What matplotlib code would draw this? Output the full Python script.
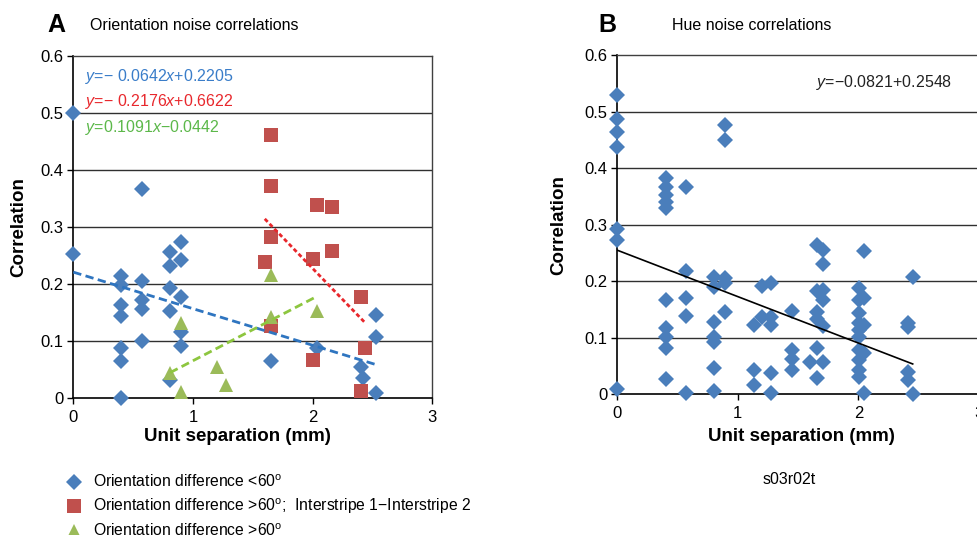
import matplotlib
matplotlib.use("Agg")
import matplotlib.pyplot as plt
from matplotlib.lines import Line2D
import numpy as np

plt.rcParams['font.family'] = ['Liberation Sans', 'DejaVu Sans']
plt.rcParams['mathtext.fontset'] = 'custom'
plt.rcParams['mathtext.rm'] = 'Liberation Sans'
plt.rcParams['mathtext.it'] = 'Liberation Sans:italic'

# Panel A: orientation noise correlations
ori_lt60_x = [0, 0, 0.40, 0.40, 0.40, 0.40, 0.40, 0.40, 0.40, 0.57, 0.57, 0.57, 0.57, 0.57,
              0.81, 0.81, 0.81, 0.81, 0.81, 0.90, 0.90, 0.90, 0.90, 0.90,
              1.65, 2.04, 2.40, 2.42, 2.53, 2.53, 2.53]
ori_lt60_y = [0.500, 0.252, 0.214, 0.198, 0.163, 0.143, 0.088, 0.064, 0.000, 0.366, 0.205, 0.171, 0.155, 0.100,
              0.255, 0.231, 0.192, 0.153, 0.031, 0.274, 0.241, 0.176, 0.116, 0.091,
              0.065, 0.088, 0.054, 0.034, 0.145, 0.106, 0.008]

ori_inter_x = [1.65, 1.65, 1.65, 1.60, 1.65, 2.04, 2.16, 2.00, 2.16, 2.00, 2.40, 2.44, 2.40]
ori_inter_y = [0.462, 0.372, 0.283, 0.239, 0.126, 0.338, 0.335, 0.243, 0.258, 0.066, 0.176, 0.088, 0.011]

ori_gt60_x = [0.90, 0.81, 0.90, 1.20, 1.28, 1.65, 1.65, 2.04]
ori_gt60_y = [0.131, 0.043, 0.010, 0.054, 0.022, 0.215, 0.142, 0.153]

# trendlines: slope, intercept, x range
fit_lt60 = [-0.0642, 0.2205, 0.0, 2.53]
fit_inter = [-0.2176, 0.6622, 1.60, 2.44]
fit_gt60 = [0.1091, -0.0442, 0.81, 2.04]

# Panel B: hue noise correlations
hue_x = [0, 0, 0, 0, 0, 0, 0,
         0.40, 0.40, 0.40, 0.40, 0.40, 0.40, 0.40, 0.40, 0.40, 0.40,
         0.57, 0.57, 0.57, 0.57, 0.57,
         0.80, 0.80, 0.80, 0.80, 0.80, 0.80, 0.80,
         0.895, 0.895, 0.895, 0.895, 0.895,
         1.13, 1.13, 1.13,
         1.20, 1.20,
         1.275, 1.275, 1.275, 1.275, 1.275,
         1.45, 1.45, 1.45, 1.45,
         1.60,
         1.657, 1.657, 1.657, 1.657, 1.657, 1.657,
         1.71, 1.71, 1.71, 1.71, 1.71, 1.71,
         2.003, 2.003, 2.003, 2.003, 2.003, 2.003, 2.003, 2.003, 2.003, 2.003,
         2.05, 2.05, 2.05, 2.05, 2.05,
         2.41, 2.41, 2.41, 2.41,
         2.45, 2.45]
hue_y = [0.529, 0.486, 0.463, 0.437, 0.292, 0.272, 0.009,
         0.382, 0.367, 0.353, 0.340, 0.330, 0.167, 0.117, 0.102, 0.081, 0.027,
         0.367, 0.218, 0.170, 0.139, 0.002,
         0.207, 0.189, 0.127, 0.101, 0.092, 0.046, 0.005,
         0.476, 0.450, 0.205, 0.196, 0.146,
         0.123, 0.043, 0.016,
         0.192, 0.137,
         0.196, 0.137, 0.123, 0.037, 0.003,
         0.148, 0.078, 0.062, 0.043,
         0.058,
         0.264, 0.182, 0.146, 0.134, 0.081, 0.028,
         0.255, 0.230, 0.184, 0.167, 0.120, 0.058,
         0.188, 0.167, 0.143, 0.126, 0.114, 0.102, 0.078, 0.061, 0.043, 0.031,
         0.254, 0.170, 0.123, 0.073, 0.002,
         0.126, 0.119, 0.040, 0.025,
         0.208, 0.000]
fit_hue = [-0.0821, 0.2548, 0.0, 2.45]

xticks = [0, 1, 2, 3]
yticks = [0, 0.1, 0.2, 0.3, 0.4, 0.5, 0.6]
yticklabels = ["0", "0.1", "0.2", "0.3", "0.4", "0.5", "0.6"]

blue = "#4a7ebb"
red = "#c0504d"
green = "#9bbb59"

fig = plt.figure(figsize=(9.78, 5.35), dpi=100)

def style_axes(ax, xlab_x, xlab_y, ylab_x):
    ax.set_xlim(0, 3)
    ax.set_ylim(0, 0.6)
    ax.set_xticks(xticks)
    ax.set_yticks(yticks)
    ax.set_yticklabels(yticklabels)
    ax.tick_params(axis='both', labelsize=12, direction='out', length=4, width=1, color='black')
    ax.tick_params(axis='x', pad=4.5)
    ax.tick_params(axis='y', pad=3)
    for v in yticks[1:-1]:
        ax.axhline(v, color='#303030', lw=1.0, zorder=1)
    for s in ['top', 'right']:
        ax.spines[s].set_color('#404040')
        ax.spines[s].set_linewidth(1.0)
    for s in ['left', 'bottom']:
        ax.spines[s].set_color('black')
        ax.spines[s].set_linewidth(1.2)
    ax.set_xlabel("Unit separation (mm)", fontsize=13.5, fontweight='bold')
    ax.set_ylabel("Correlation", fontsize=13.5, fontweight='bold')
    ax.xaxis.set_label_coords(xlab_x, xlab_y)
    ax.yaxis.set_label_coords(ylab_x, 0.5)

# ---- Panel A ----
axA = fig.add_axes([73.3/978, (535-397.7)/535, 359/978, 341.7/535])
style_axes(axA, 0.456, -0.088, -0.128)
axA.plot(ori_lt60_x, ori_lt60_y, 'D', color=blue, ms=7.7, mew=0, clip_on=False, zorder=3)
axA.plot(ori_inter_x, ori_inter_y, 's', color=red, ms=10, mew=0, clip_on=False, zorder=3)
axA.plot(ori_gt60_x, ori_gt60_y, '^', color=green, ms=10.5, mew=0, clip_on=False, zorder=4)

for fit, col, dash in [(fit_lt60, '#2f75c0', (3, 1.6)), (fit_gt60, '#8dc63f', (3, 1.6)),
                       (fit_inter, '#e8262b', (1.5, 1.0))]:
    xs = np.array([fit[2], fit[3]])
    axA.plot(xs, fit[0]*xs + fit[1], color=col, lw=2, dashes=dash, zorder=5)

axA.text(0.033, 0.94, r"$y$=− 0.0642$x$+0.2205", transform=axA.transAxes, color='#3a7dc9',
         fontsize=11.5, va='center')
axA.text(0.033, 0.866, r"$y$=− 0.2176$x$+0.6622", transform=axA.transAxes, color='#e8282d',
         fontsize=11.5, va='center')
axA.text(0.033, 0.79, r"$y$=0.1091$x$−0.0442", transform=axA.transAxes, color='#5cb84a',
         fontsize=11.5, va='center')

fig.text(56/978, 1-25/535, "A", fontsize=18, fontweight='bold', ha='center', va='center')
fig.text(90.5/978, 1-26/535, "Orientation noise correlations", fontsize=11.5, ha='left', va='center')

handles = [Line2D([], [], ls='none', marker='D', color=blue, ms=7.7, mew=0),
           Line2D([], [], ls='none', marker='s', color=red, ms=10, mew=0),
           Line2D([], [], ls='none', marker='^', color=green, ms=10.5, mew=0)]
labels = [r"Orientation difference <60$^\mathregular{o}$",
          r"Orientation difference >60$^\mathregular{o}$;  Interstripe 1−Interstripe 2",
          r"Orientation difference >60$^\mathregular{o}$"]
fig.legend(handles, labels, loc='upper left', bbox_to_anchor=(67/978, 1-473.5/535),
           frameon=False, fontsize=11.3, handlelength=0.9, handletextpad=0.78,
           labelspacing=0.42, borderpad=0, borderaxespad=0, numpoints=1)

# ---- Panel B ----
axB = fig.add_axes([617.3/978, (535-394.3)/535, 361.7/978, 339.3/535])
style_axes(axB, 0.51, -0.1, -0.137)
axB.plot(hue_x, hue_y, 'D', color=blue, ms=7.7, mew=0, clip_on=False, zorder=3)
xs = np.array([fit_hue[2], fit_hue[3]])
axB.plot(xs, fit_hue[0]*xs + fit_hue[1], color='black', lw=1.2, zorder=5)
axB.text(816/978, 1-82.7/535, r"$y$=−0.0821+0.2548", transform=fig.transFigure,
         fontsize=11.5, va='center', ha='left', color='#222222')

fig.text(607/978, 1-25/535, "B", fontsize=18, fontweight='bold', ha='center', va='center')
fig.text(672.5/978, 1-26/535, "Hue noise correlations", fontsize=11.5, ha='left', va='center')
fig.text(789/978, 1-480/535, "s03r02t", fontsize=11.5, ha='center', va='center')

fig.savefig("out.png", dpi=100)
